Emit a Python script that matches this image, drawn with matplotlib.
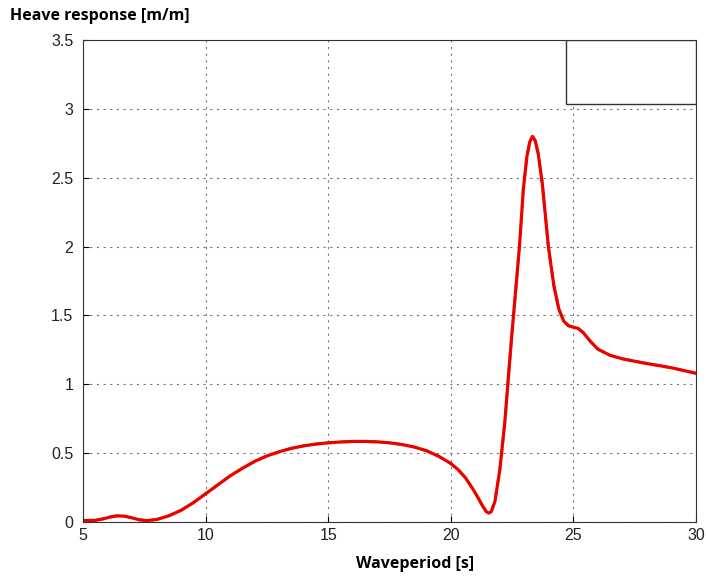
import matplotlib.pyplot as plt
from matplotlib.patches import Rectangle

# Wave period [s] and heave response [m/m]
period = [5.0, 5.5, 5.8, 6.1, 6.4, 6.7, 7.0, 7.3, 7.6, 8.0, 8.5, 9.0, 9.5, 10.0,
          10.5, 11.0, 11.5, 12.0, 12.5, 13.0, 13.5, 14.0, 14.5, 15.0, 15.5, 16.0,
          16.5, 17.0, 17.5, 18.0, 18.5, 19.0, 19.5, 20.0, 20.3, 20.6, 20.9, 21.1,
          21.3, 21.45, 21.55, 21.65, 21.8, 22.0, 22.2, 22.47, 22.8, 22.96, 23.1,
          23.22, 23.33, 23.44, 23.56, 23.73, 23.98, 24.2, 24.4, 24.6, 24.8, 25.0,
          25.2, 25.4, 25.7, 26.0, 26.5, 27.0, 27.86, 29.0, 30.0]
heave = [0.01, 0.012, 0.022, 0.036, 0.045, 0.042, 0.03, 0.016, 0.01, 0.018,
         0.045, 0.085, 0.14, 0.205, 0.27, 0.335, 0.39, 0.44, 0.48, 0.51, 0.535,
         0.553, 0.566, 0.575, 0.581, 0.585, 0.585, 0.582, 0.575, 0.563, 0.545,
         0.518, 0.478, 0.425, 0.38, 0.32, 0.24, 0.18, 0.115, 0.075, 0.065, 0.075,
         0.15, 0.38, 0.72, 1.32, 2.0, 2.42, 2.65, 2.76, 2.8, 2.77, 2.68, 2.46,
         2.0, 1.72, 1.55, 1.46, 1.425, 1.415, 1.405, 1.375, 1.31, 1.255, 1.21,
         1.185, 1.155, 1.12, 1.08]

# green dashed reference curve, nearly on top of the red one
heave_ref = heave

fig = plt.figure(figsize=(7.06, 5.76), dpi=100)
ax = fig.add_axes([83 / 706, 1 - 522 / 576, (696 - 83) / 706, (522 - 40) / 576])

ax.plot(period, heave_ref, color='#33cc00', lw=2, ls='--', dashes=(3, 2))
ax.plot(period, heave, color='#ee0000', lw=2.3, solid_joinstyle='round')

ax.set_xlim(5, 30)
ax.set_ylim(0, 3.5)
ax.set_xticks([5, 10, 15, 20, 25, 30])
ax.set_yticks([0, 0.5, 1, 1.5, 2, 2.5, 3, 3.5])
ax.set_yticklabels(['0', '0.5', '1', '1.5', '2', '2.5', '3', '3.5'])
ax.tick_params(direction='in', labelsize=11.5, length=4, labelcolor='#222222')
ax.tick_params(axis='y', pad=7)
ax.tick_params(axis='x', pad=4)
for lab in ax.get_xticklabels() + ax.get_yticklabels():
    lab.set_family('Liberation Sans')
ax.grid(True, color='#777777', ls=(0, (2, 4)), lw=0.8)
for s in ax.spines.values():
    s.set_color('#333333')

# empty legend box in the top right corner
ax.add_patch(Rectangle((0.788, 0.867), 0.212, 0.133, transform=ax.transAxes,
                       facecolor='white', edgecolor='#333333', lw=1, zorder=5))

fig.text(10 / 706, 1 - 16 / 576, 'Heave response [m/m]', fontsize=11.5,
         fontweight='bold', family='Open Sans', va='center', ha='left')
fig.text(415 / 706, 1 - 564 / 576, 'Waveperiod [s]', fontsize=11.5,
         fontweight='bold', family='Open Sans', va='center', ha='center')

fig.savefig('out.png', dpi=100)
